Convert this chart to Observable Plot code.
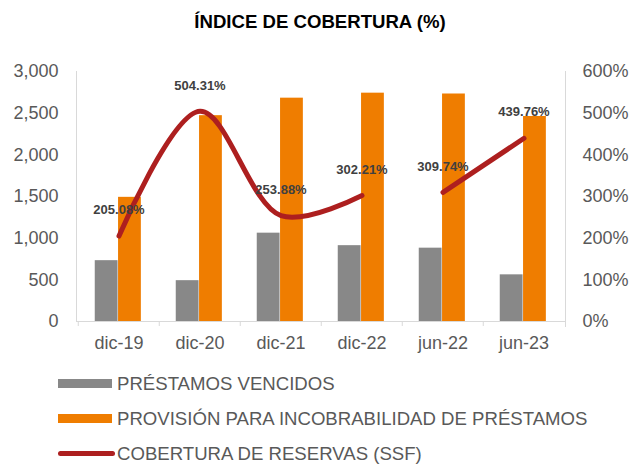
<!DOCTYPE html>
<html>
<head>
<meta charset="utf-8">
<script src="https://cdn.jsdelivr.net/npm/d3@7"></script>
<script src="https://cdn.jsdelivr.net/npm/@observablehq/plot@0.6"></script>
<style>
  html, body { margin: 0; padding: 0; background: #fff; }
  body { width: 631px; height: 468px; overflow: hidden; font-family: "Liberation Sans", Arial, sans-serif; }
  #title { height: 56px; line-height: 44px; text-align: center; font-weight: bold; font-size: 18.6px; color: #000; padding-left: 9px; box-sizing: border-box; }
  #legend { padding-top: 6px; }
  .row { display: flex; align-items: center; height: 35px; color: #595959; font-size: 18.6px; white-space: nowrap; }
  .sw { margin-left: 58px; width: 54px; height: 9px; margin-right: 5px; flex: none; }
  .swl { margin-left: 58px; width: 57px; height: 5px; border-radius: 3px; margin-right: 2px; flex: none; }
</style>
</head>
<body>
<div id="title">ÍNDICE DE COBERTURA (%)</div>
<div id="chart"></div>
<div id="legend"></div>
<script>
// ---- data ----
const categories = ["dic-19", "dic-20", "dic-21", "dic-22", "jun-22", "jun-23"];
const prestamosVencidos = [730, 490, 1060, 910, 880, 560];
const provision = [1490, 2470, 2680, 2740, 2730, 2460];
const cobertura = [205.08, 504.31, 253.88, 302.21, 309.74, 439.76];
const coberturaSegment = [1, 1, 1, 1, 2, 2];
const leftTicks = [0, 500, 1000, 1500, 2000, 2500, 3000];
const rightTickLabels = ["0%", "100%", "200%", "300%", "400%", "500%", "600%"];
const seriesNames = ["PRÉSTAMOS VENCIDOS", "PROVISIÓN PARA INCOBRABILIDAD DE PRÉSTAMOS", "COBERTURA DE RESERVAS (SSF)"];

// ---- style ----
const colGray = "#888888", colOrange = "#EF7D00", colRed = "#AD1F1F", axisCol = "#D9D9D9";
const W = 631, H = 304, mL = 76, mR = 66, mT = 15, mB = 39;
const yMax = 3000, pctMax = 600, ratio = yMax / pctMax;
const bw = (W - mL - mR) / categories.length;
const barW = 23.3, groupShift = 0.7;

const bars = categories.map((c, i) => ({cat: c, gray: prestamosVencidos[i], orange: provision[i]}));
const line = categories.map((c, i) => ({cat: c, pct: cobertura[i], seg: coberturaSegment[i]}));

const chart = Plot.plot({
  width: W, height: H,
  marginLeft: mL, marginRight: mR, marginTop: mT, marginBottom: mB,
  style: {fontFamily: '"Liberation Sans", Arial, sans-serif', fontSize: "18px", color: "#595959", background: "#fff"},
  x: {type: "band", domain: categories, padding: 0},
  y: {domain: [0, yMax]},
  marks: [
    Plot.frame({anchor: "left", stroke: axisCol}),
    Plot.frame({anchor: "right", stroke: axisCol, insetBottom: -5}),
    Plot.ruleY([0], {stroke: axisCol}),
    Plot.axisX({tickSize: 5, tickFormat: () => "", dx: -bw / 2, stroke: axisCol, label: null}),
    Plot.axisX({tickSize: 0, tickPadding: 15, label: null, fill: "#595959", fontSize: 18}),
    Plot.axisY({anchor: "left", ticks: leftTicks, tickSize: 0, tickPadding: 18, tickFormat: d3.format(","), label: null, fill: "#595959", fontSize: 18}),
    Plot.axisY({anchor: "right", ticks: leftTicks, tickSize: 0, tickPadding: 17, tickFormat: d => rightTickLabels[leftTicks.indexOf(d)], label: null, fill: "#595959", fontSize: 18}),
    Plot.barY(bars, {x: "cat", y: "gray", fill: colGray, insetLeft: bw / 2 - barW - groupShift, insetRight: bw / 2 + groupShift}),
    Plot.barY(bars, {x: "cat", y: "orange", fill: colOrange, insetLeft: bw / 2 - groupShift, insetRight: bw / 2 - barW + groupShift}),
    Plot.line(line, {x: "cat", y: d => d.pct * ratio, z: "seg", stroke: colRed, strokeWidth: 5, strokeLinecap: "round", curve: "catmull-rom"}),
    Plot.text(line, {x: "cat", y: d => d.pct * ratio, text: d => d.pct.toFixed(2) + "%", dy: -26, fill: "#404040", fontWeight: "bold", fontSize: 13})
  ]
});
document.getElementById("chart").appendChild(chart);

const legend = document.getElementById("legend");
const swatches = [
  `<div class="sw" style="background:${colGray}"></div>`,
  `<div class="sw" style="background:${colOrange}"></div>`,
  `<div class="swl" style="background:${colRed}"></div>`
];
seriesNames.forEach((n, i) => {
  const r = document.createElement("div");
  r.className = "row";
  r.innerHTML = swatches[i] + `<span>${n}</span>`;
  legend.appendChild(r);
});
</script>
</body>
</html>
